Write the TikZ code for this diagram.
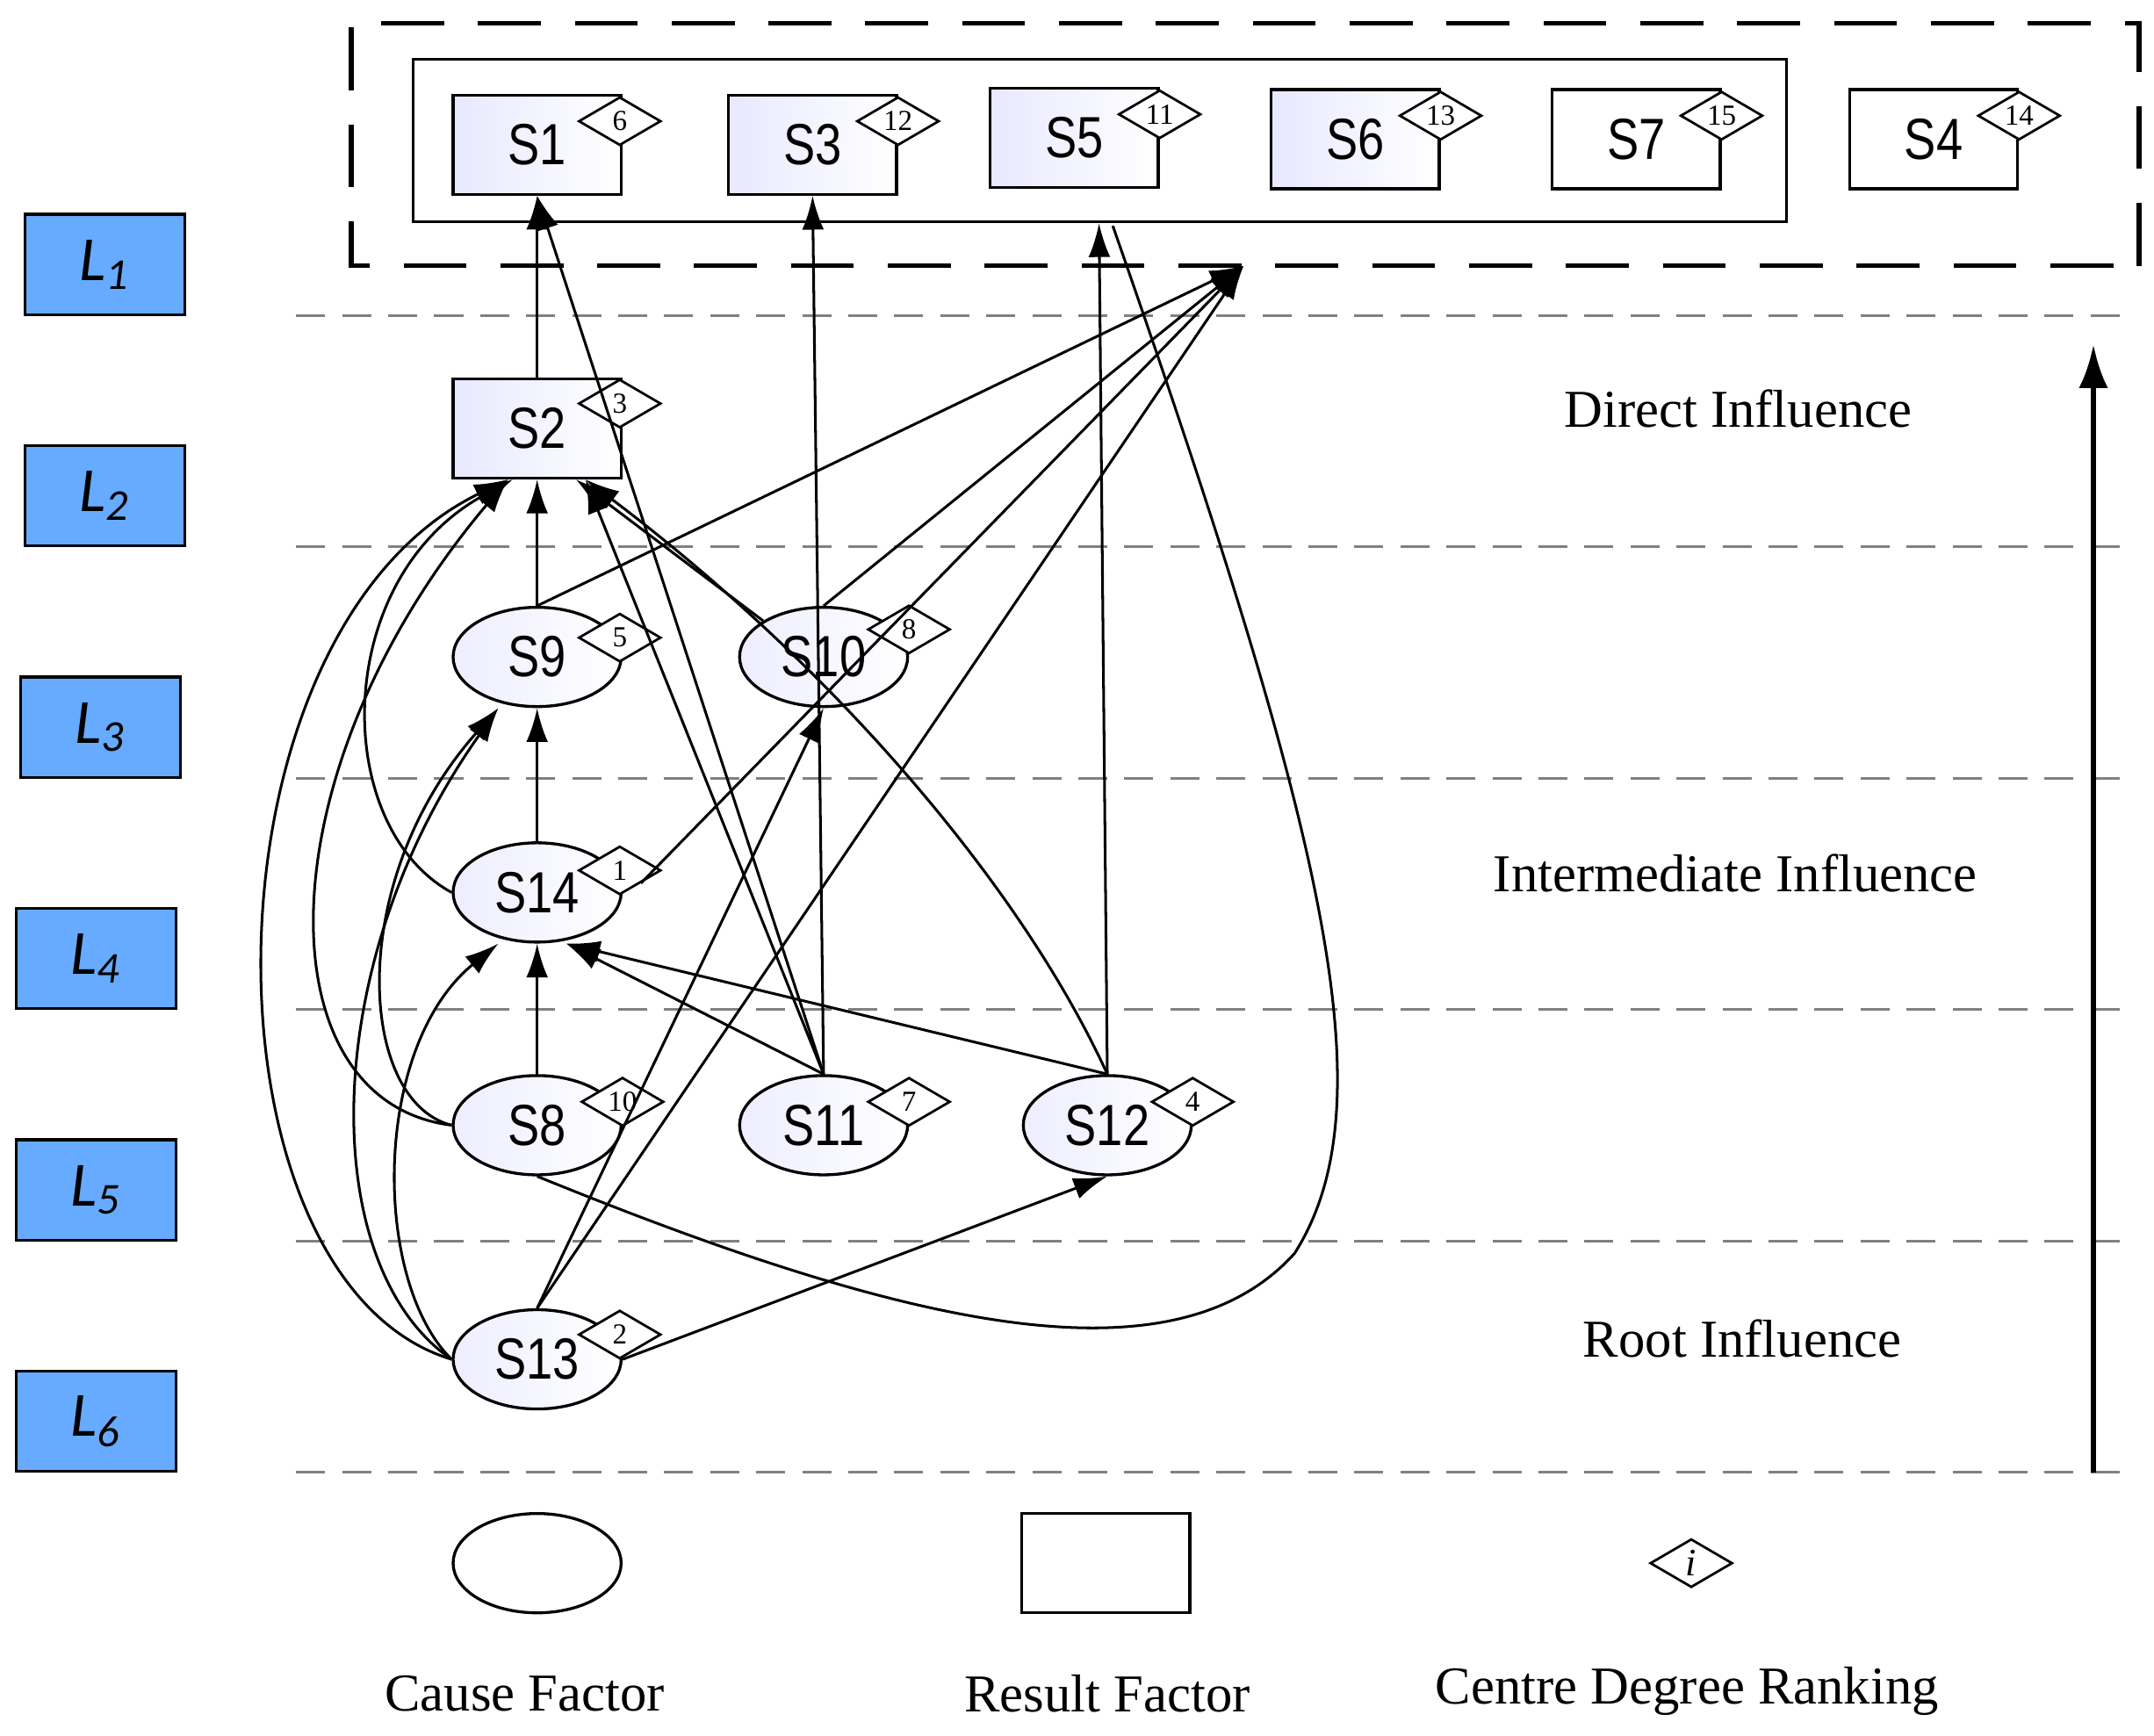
\documentclass[tikz,border=0pt]{standalone}
\usepackage{fontspec}
\setmainfont{Liberation Serif}
\newfontfamily\sff[FakeStretch=0.82]{Liberation Sans}
\newfontfamily\lf{Carlito}
\usetikzlibrary{shapes.geometric,arrows.meta}
\begin{document}
\begin{tikzpicture}[x=0.01cm,y=-0.01cm,
  res/.style={draw,line width=0.6pt,minimum width=34.7pt,minimum height=20.5pt,inner sep=0,left color=blue!9!white,right color=white,font=\sff\fontsize{12}{14}\selectfont},
  resw/.style={res,left color=white},
  cau/.style={draw,ellipse,line width=0.6pt,minimum width=34.7pt,minimum height=20.5pt,inner sep=0,left color=blue!7!white,right color=white,font=\sff\fontsize{12}{14}\selectfont},
  dia/.style={draw,diamond,fill=white,line width=0.5pt,minimum width=17pt,minimum height=10pt,inner sep=0,font=\fontsize{6}{7}\selectfont},
  lev/.style={draw,fill=blue!55!cyan!60!white,line width=0.6pt,minimum width=33pt,minimum height=20.7pt,inner sep=0,font=\lf\itshape\fontsize{13}{15}\selectfont},
  gl/.style={gray,dashed,line width=0.6pt,dash pattern=on 6pt off 3.5pt},
  ar/.style={-{Latex[length=7pt,width=4.5pt]},line width=0.55pt},
  ln/.style={line width=0.55pt},
  lab/.style={font=\fontsize{11}{13}\selectfont}]
\useasboundingbox (0,0) rectangle (1564,1260);
% grid lines
\foreach \y in {229,397,565,733,901,1069} \draw[gl] (215,\y) -- (1540,\y);
% level boxes
\node[lev] (L1) at (76,192) {L\textsubscript{1}};
\node[lev] (L2) at (76,360) {L\textsubscript{2}};
\node[lev] (L3) at (73,528) {L\textsubscript{3}};
\node[lev] (L4) at (70,696) {L\textsubscript{4}};
\node[lev] (L5) at (70,864) {L\textsubscript{5}};
\node[lev] (L6) at (70,1032) {L\textsubscript{6}};
% boxes
\draw[line width=1pt,dash pattern=on 13pt off 7pt] (1553,193) -- (1553,17) -- (255,17) -- (255,193) -- (1553,193);
\node[draw,line width=0.6pt,minimum width=283.6pt,minimum height=33.6pt,inner sep=0] (grp) at (798.5,102) {};
% result nodes
\node[res] (S1) at (390,105) {S1}; \node[dia] (d1) at (450,88) {6};
\node[res] (S3) at (590,105) {S3}; \node[dia] (d3) at (652,88) {12};
\node[res] (S5) at (780,100) {S5}; \node[dia] (d5) at (842,83) {11};
\node[res] (S6) at (984,101) {S6}; \node[dia] (d6) at (1046,84) {13};
\node[resw] (S7) at (1188,101) {S7}; \node[dia] (d7) at (1250,84) {15};
\node[resw] (S4) at (1404,101) {S4}; \node[dia] (d4) at (1466,84) {14};
\node[res] (S2) at (390,311) {S2}; \node[dia] (d2) at (450,293) {3};
% cause nodes
\node[cau] (S9) at (390,477) {S9}; \node[dia] (d9) at (450,463) {5};
\node[cau] (S10) at (598,477) {S10}; \node[dia] (d10) at (660,457) {8};
\node[cau] (S14) at (390,648) {S14}; \node[dia] (d14) at (450,632) {1};
\node[cau] (S8) at (390,817) {S8}; \node[dia] (d8) at (452,800) {10};
\node[cau] (S11) at (598,817) {S11}; \node[dia] (d11) at (660,800) {7};
\node[cau] (S12) at (804,817) {S12}; \node[dia] (d12) at (866,800) {4};
\node[cau] (S13) at (390,987) {S13}; \node[dia] (d13) at (450,969) {2};
\coordinate (T) at (903,193);
\coordinate (G5) at (798,162);
\coordinate (G5b) at (808,164);
% edges
\draw[ar] (S2) -- (S1);
\draw[ar] (S11.north) -- (S1.south);
\draw[ar] (S11.north) -- (S3.south);
\draw[ar] (S12.north) -- (G5);
\draw[ar] (S9.north) -- (T);
\draw[ar] (S10.north) -- (T);
\draw[ar] (d14.south east) -- (T);
\draw[ar] (S13.north) -- (T);
\draw[ln] (S8.south) .. controls (650,960) and (850,1010) .. (940,910) .. controls (1010,800) and (960,600) .. (G5b);
\draw[ar] (S9) -- (S2);
\draw[ar] (S10.north west) -- ([xshift=8]S2.south);
\draw[ar] (S11.north) -- ([xshift=10]S2.south);
\draw[ar] (S12.north) .. controls (740,640) and (600,480) .. ([xshift=10]S2.south);
\draw[ar] (S14.west) .. controls (240,600) and (240,420) .. ([xshift=-5]S2.south);
\draw[ar] (S8.west) .. controls (190,800) and (190,560) .. ([xshift=-6]S2.south);
\draw[ar] (S13.west) .. controls (140,930) and (140,460) .. ([xshift=-6]S2.south);
\draw[ar] (S14) -- (S9);
\draw[ar] (S8.west) .. controls (260,800) and (250,640) .. ([xshift=-8]S9.south);
\draw[ar] (S13.west) .. controls (230,920) and (230,700) .. ([xshift=-8]S9.south);
\draw[ar] (S8) -- (S14);
\draw[ar] (S13.west) .. controls (270,930) and (270,760) .. ([xshift=-8]S14.south);
\draw[ar] (S11.north) -- ([xshift=6]S14.south);
\draw[ar] (S12.north) -- ([xshift=6]S14.south);
\draw[ar] (S13.north) -- (S10.south);
\draw[ar] (S13.east) -- (S12.south);
% right arrow and labels
\draw[-{Latex[length=9pt,width=6pt]},line width=1.2pt] (1520,1069) -- (1520,250);
\node[lab] (t1) at (1262,297) {Direct Influence};
\node[lab] (t2) at (1260,634) {Intermediate Influence};
\node[lab] (t3) at (1265,972) {Root Influence};
% legend
\node[draw,ellipse,line width=0.6pt,minimum width=34.7pt,minimum height=20.5pt] (le) at (390,1135) {};
\node[draw,line width=0.6pt,minimum width=34.7pt,minimum height=20.5pt] (lr) at (803,1135) {};
\node[dia] (ld) at (1228,1135) {\itshape\fontsize{8}{9}\selectfont i};
\node[lab] (c1) at (381,1230) {Cause Factor};
\node[lab] (c2) at (804,1230) {Result Factor};
\node[lab] (c3) at (1225,1228) {Centre Degree Ranking};
\end{tikzpicture}
\end{document}
